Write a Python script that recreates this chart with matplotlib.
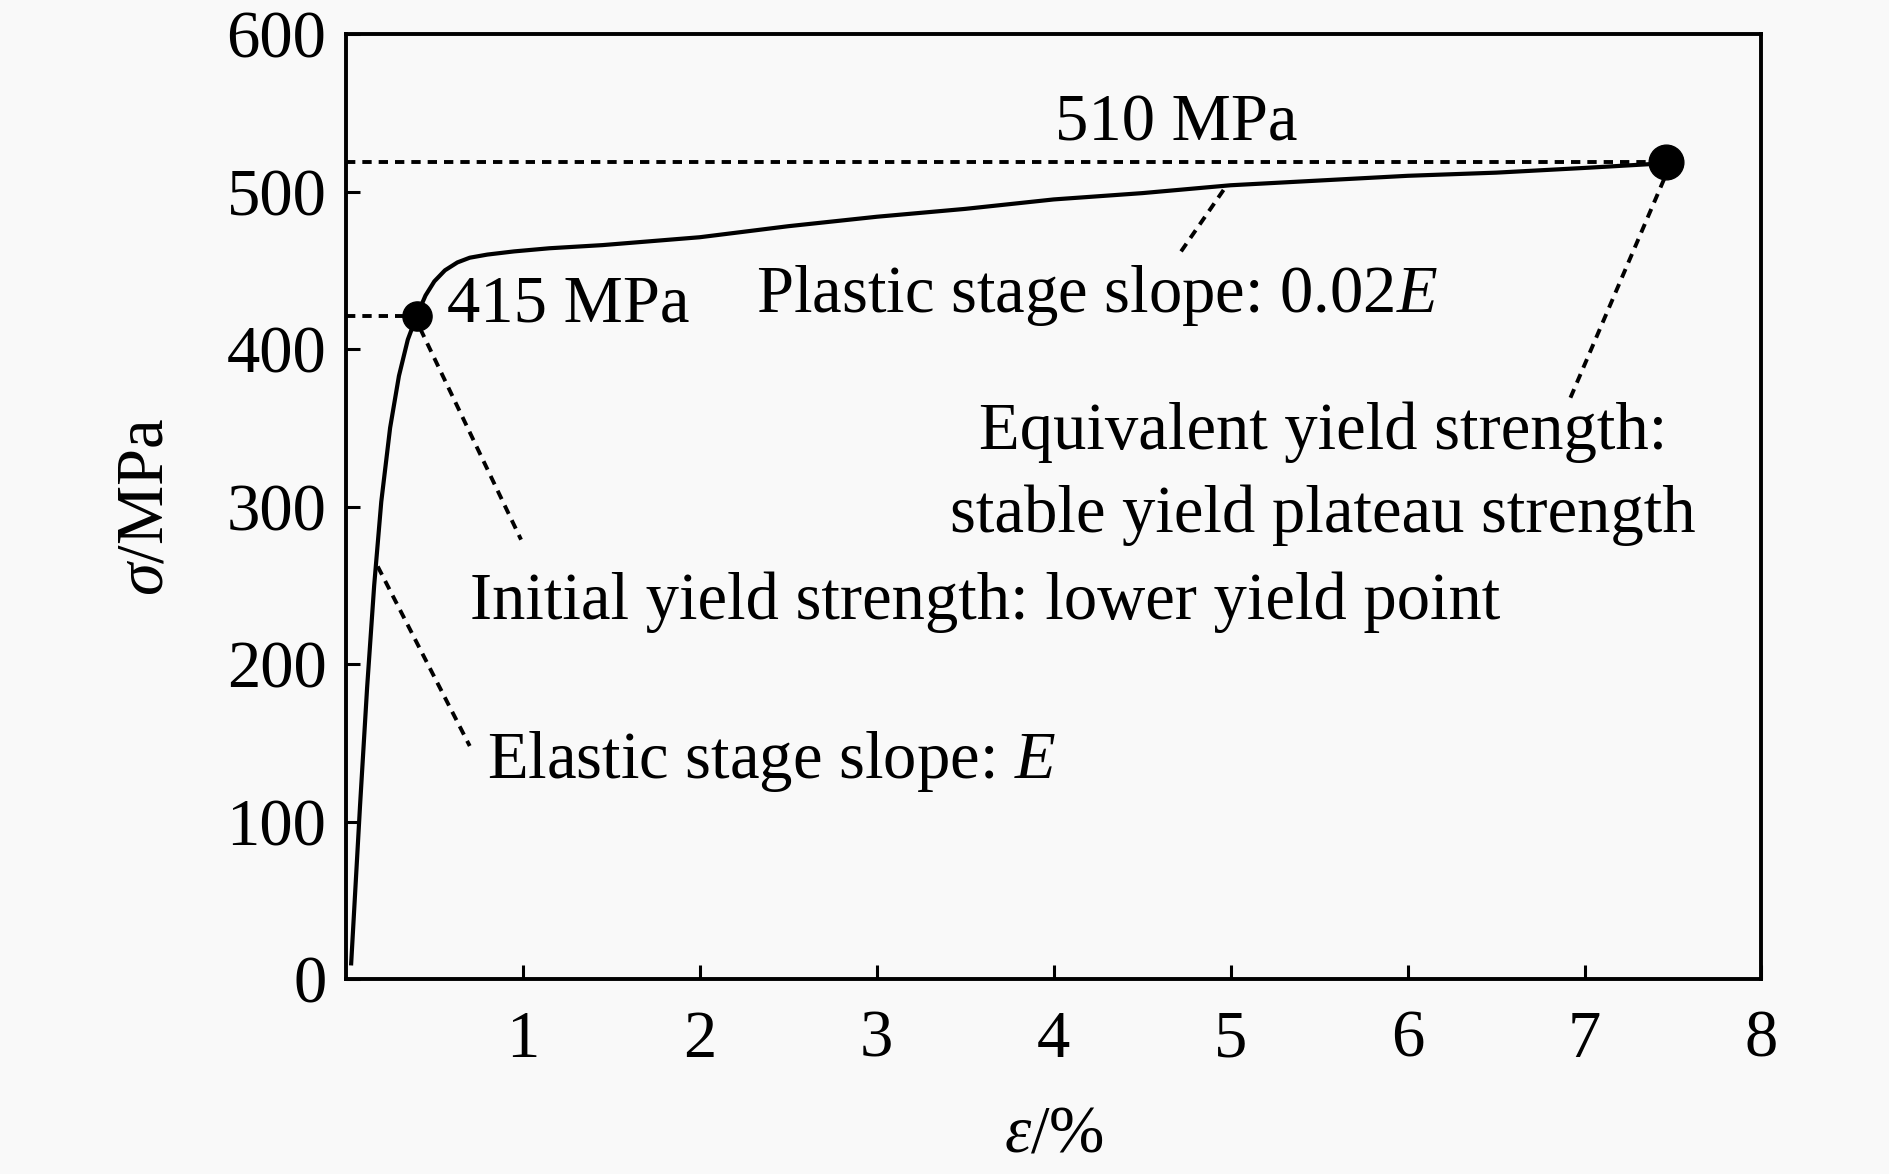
import numpy as np
from matplotlib import pyplot as plt

plt.rcParams['font.family'] = 'Liberation Serif'
plt.rcParams['mathtext.fontset'] = 'custom'
plt.rcParams['mathtext.rm'] = 'Liberation Serif'
plt.rcParams['mathtext.it'] = 'Liberation Serif:italic'

# stress-strain curve
strain = [0.03, 0.05, 0.08, 0.12, 0.16, 0.20, 0.25, 0.30, 0.35, 0.40, 0.45,
          0.50, 0.56, 0.63, 0.70, 0.80, 0.95, 1.15, 1.45, 2.0, 2.5, 3.0,
          3.5, 4.0, 4.5, 5.0, 5.5, 6.0, 6.5, 7.0, 7.46]
stress = [10, 50, 110, 185, 250, 303, 350, 383, 406, 421, 434,
          443, 450, 455, 458, 460, 462, 464, 466, 471, 478, 484,
          489, 495, 499, 504, 507, 510, 512, 515, 518]

yield_pt = (0.40, 421)
equiv_pt = (7.46, 519)

# leader lines (start, end) in data units
leaders = [
    ((0.42, 413), (0.99, 279)),
    ((0.18, 262), (0.70, 148)),
    ((4.96, 501), (4.72, 462)),
    ((7.45, 508), (6.92, 369)),
]

bg = '#f9f9f9'
fig = plt.figure(figsize=(18.9, 11.74), dpi=100, facecolor=bg)
ax = fig.add_axes([0.183, 0.166, 0.749, 0.805], facecolor=bg)

ax.plot(strain, stress, color='black', lw=3.0, zorder=3,
        solid_joinstyle='round')

dash = (0, (2.4, 1.8))
ax.plot([0, equiv_pt[0]], [equiv_pt[1], equiv_pt[1]], color='black', lw=2.8, ls=dash)
ax.plot([0, yield_pt[0]], [yield_pt[1], yield_pt[1]], color='black', lw=2.8, ls=dash)
for (x0, y0), (x1, y1) in leaders:
    ax.plot([x0, x1], [y0, y1], color='black', lw=2.8, ls=dash)

ax.plot(*yield_pt, 'o', color='black', ms=21, zorder=4)
ax.plot(*equiv_pt, 'o', color='black', ms=25, zorder=4)

fs = 48
ax.text(4.69, 543, '510 MPa', fontsize=fs, ha='center', va='center')
ax.text(0.57, 428, '415 MPa', fontsize=fs, ha='left', va='center')
ax.text(2.32, 434, 'Plastic stage slope: 0.02$\\it{E}$', fontsize=fs, ha='left', va='center')
ax.text(5.52, 321, 'Equivalent yield strength:\nstable yield plateau strength',
        fontsize=fs, ha='center', va='center', linespacing=1.45)
ax.text(0.70, 239, 'Initial yield strength: lower yield point', fontsize=fs,
        ha='left', va='center')
ax.text(0.80, 138, 'Elastic stage slope: $\\it{E}$', fontsize=fs, ha='left', va='center')

ax.set_xlim(0, 8)
ax.set_ylim(0, 600)
ax.set_xticks([1, 2, 3, 4, 5, 6, 7, 8])
ax.set_yticks([0, 100, 200, 300, 400, 500, 600])
ax.tick_params(direction='in', labelsize=fs, width=2.2, length=10)
ax.tick_params(axis='x', pad=22)
ax.tick_params(axis='y', pad=14)
for s in ax.spines.values():
    s.set_linewidth(2.8)

ax.set_xlabel('$\\varepsilon$/%', fontsize=fs, labelpad=24)
ax.set_ylabel('$\\sigma$/MPa', fontsize=fs, labelpad=36)

fig.savefig('out.png', dpi=100, facecolor=bg)
